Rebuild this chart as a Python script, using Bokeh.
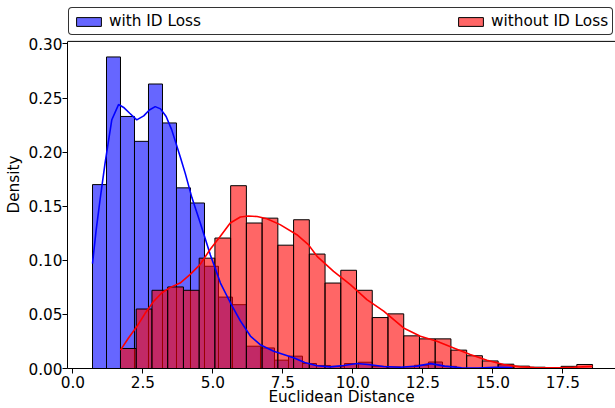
import numpy as np
from bokeh.plotting import figure
from bokeh.models import (ColumnDataSource, Legend, LegendItem, FixedTicker, Span,
                          NumeralTickFormatter, Range1d)
from bokeh.embed import file_html
from bokeh.resources import INLINE

# ---------------- data ----------------
series_labels = ["with ID Loss", "without ID Loss"]
x_label = "Euclidean Distance"
y_label = "Density"

blue_bin_start = 0.70
blue_bin_width = 0.50
blue_density = [0.170, 0.288, 0.233, 0.210, 0.263, 0.227, 0.167, 0.153, 0.0945, 0.066,
                0.059, 0.0206, 0.019, 0.0077, 0.0114, 0.0046, 0.0028, 0.002, 0.0046, 0.0058,
                0.002, 0.0015, 0.0005, 0.003, 0.006, 0.002, 0.0, 0.0, 0.0, 0.0034]

red_bin_start = 1.70
red_bin_width = 0.562
red_density = [0.0185, 0.055, 0.0723, 0.0754, 0.0723, 0.102, 0.1206, 0.169, 0.1345, 0.139,
               0.114, 0.1375, 0.1058, 0.079, 0.0908, 0.0723, 0.0471, 0.0505, 0.0302, 0.0274,
               0.0274, 0.0170, 0.0118, 0.0070, 0.0040, 0.0022, 0.0012, 0.0005, 0.0020, 0.0037]

blue_kde_x = [0.70, 0.83, 0.97, 1.15, 1.39, 1.63, 1.83, 2.03, 2.28, 2.53, 2.73, 2.94, 3.13,
              3.33, 3.53, 3.83, 4.01, 4.25, 4.55, 4.91, 5.27, 5.62, 5.98, 6.34, 6.69, 7.17,
              7.88, 8.28, 8.72, 9.19, 9.67, 10.15, 10.62, 11.10, 11.68, 12.28, 12.78, 13.28,
              13.88, 14.48, 15.08, 15.70]
blue_kde_y = [0.097, 0.128, 0.156, 0.190, 0.230, 0.2440, 0.241, 0.236, 0.2298, 0.2335, 0.239,
              0.2421, 0.240, 0.233, 0.2206, 0.196, 0.1806, 0.158, 0.1345, 0.105, 0.079, 0.061,
              0.044, 0.030, 0.022, 0.016, 0.0099, 0.0055, 0.0025, 0.0015, 0.0028, 0.0046,
              0.0034, 0.0018, 0.0012, 0.0022, 0.0045, 0.0022, 0.0007, 0.0004, 0.0010, 0.0008]

red_kde_x = [1.70, 1.98, 2.29, 2.58, 2.88, 3.18, 3.48, 3.83, 4.19, 4.54, 4.90, 5.26, 5.62, 5.98,
             6.27, 6.58, 6.93, 7.40, 8.00, 8.41, 8.72, 9.31, 9.91, 10.50, 11.10, 11.81, 12.41,
             13.00, 13.60, 14.19, 14.79, 15.38, 15.98, 16.48, 16.93, 17.38, 17.88, 18.56]
red_kde_y = [0.017, 0.028, 0.039, 0.051, 0.062, 0.070, 0.075, 0.079, 0.087, 0.096, 0.110, 0.122,
             0.1345, 0.140, 0.1410, 0.1405, 0.1385, 0.133, 0.1237, 0.1145, 0.1037, 0.0898,
             0.0775, 0.0637, 0.053, 0.0375, 0.0298, 0.0252, 0.019, 0.0129, 0.0077, 0.0037,
             0.0015, 0.0009, 0.0006, 0.0007, 0.0012, 0.002]

x_ticks = [0.0, 2.5, 5.0, 7.5, 10.0, 12.5, 15.0, 17.5]
y_ticks = [0.00, 0.05, 0.10, 0.15, 0.20, 0.25, 0.30]

# ---------------- build ----------------
FONT = "DejaVu Sans"
FS = "15.3px"
W, H = 615, 408
BORDER_L, BORDER_B = 67, 39
AXES_TOP = 41          # top spine of the axes (legend sits above it)

def bins(start, width, dens):
    n = len(dens)
    left = [start + i * width for i in range(n)]
    right = [start + (i + 1) * width for i in range(n)]
    return ColumnDataSource(dict(left=left, right=right, top=dens, bottom=[0.0] * n))

src_b = bins(blue_bin_start, blue_bin_width, blue_density)
src_r = bins(red_bin_start, red_bin_width, red_density)

xmin = min(blue_bin_start, red_bin_start)
xmax = max(blue_bin_start + blue_bin_width * len(blue_density),
           red_bin_start + red_bin_width * len(red_density))
margin = 0.05 * (xmax - xmin)
ymax = max(max(blue_density), max(red_density)) * 1.05

frame_h = H - BORDER_B              # frame runs to the top of the canvas
axes_h = frame_h - AXES_TOP
y_top = ymax * frame_h / axes_h     # extra room above the axes for the legend

p = figure(width=W, height=H, output_backend="svg", toolbar_location=None,
           x_range=Range1d(xmin - margin, xmax + 0.82),
           y_range=Range1d(0, y_top),
           min_border_left=BORDER_L, min_border_right=0, min_border_top=0,
           min_border_bottom=BORDER_B)
p.xgrid.visible = False
p.ygrid.visible = False
p.outline_line_color = None
p.background_fill_color = "white"
p.border_fill_color = "white"

rb = p.quad(left="left", right="right", top="top", bottom="bottom", source=src_b,
            fill_color="blue", fill_alpha=0.6, line_color="black", line_width=1)
rr = p.quad(left="left", right="right", top="top", bottom="bottom", source=src_r,
            fill_color="red", fill_alpha=0.6, line_color="black", line_width=1)
p.line(blue_kde_x, blue_kde_y, line_color="blue", line_width=1.6)
p.line(red_kde_x, red_kde_y, line_color="red", line_width=1.6)

# top spine of the axes
p.add_layout(Span(location=ymax, dimension="width", line_color="black", line_width=1))

for ax, ticks, fmt in ((p.xaxis[0], x_ticks, "0.0"), (p.yaxis[0], y_ticks, "0.00")):
    ax.ticker = FixedTicker(ticks=ticks)
    ax.formatter = NumeralTickFormatter(format=fmt)
    ax.major_tick_out = 5
    ax.major_tick_in = 0
    ax.minor_tick_line_color = None
    ax.major_tick_line_color = "black"
    ax.axis_line_color = "black"
    ax.axis_line_width = 1
    ax.major_label_text_font = FONT
    ax.major_label_text_font_size = FS
    ax.major_label_text_color = "black"
    ax.axis_label_text_font = FONT
    ax.axis_label_text_font_size = FS
    ax.axis_label_text_font_style = "normal"
    ax.axis_label_text_color = "black"

p.yaxis[0].bounds = (0, ymax)
p.xaxis[0].axis_label = x_label
p.yaxis[0].axis_label = y_label
p.xaxis[0].major_label_standoff = 2
p.xaxis[0].axis_label_standoff = -3
p.yaxis[0].major_label_standoff = 0
p.yaxis[0].axis_label_standoff = 2

legend = Legend(items=[LegendItem(label=series_labels[0], renderers=[rb]),
                       LegendItem(label=series_labels[1], renderers=[rr])],
                location=(1, frame_h - 36), orientation="horizontal", spacing=254, padding=4,
                glyph_width=31, glyph_height=11, label_standoff=5, label_height=15,
                label_text_font=FONT, label_text_font_size=FS, label_text_color="black",
                border_line_color="black", border_line_alpha=0.8, border_line_width=1,
                background_fill_color="white", background_fill_alpha=0.8, margin=0)
if "border_radius" in Legend.properties():
    legend.border_radius = 4
p.add_layout(legend, "center")

open("out.html", "w").write(file_html(p, INLINE))
